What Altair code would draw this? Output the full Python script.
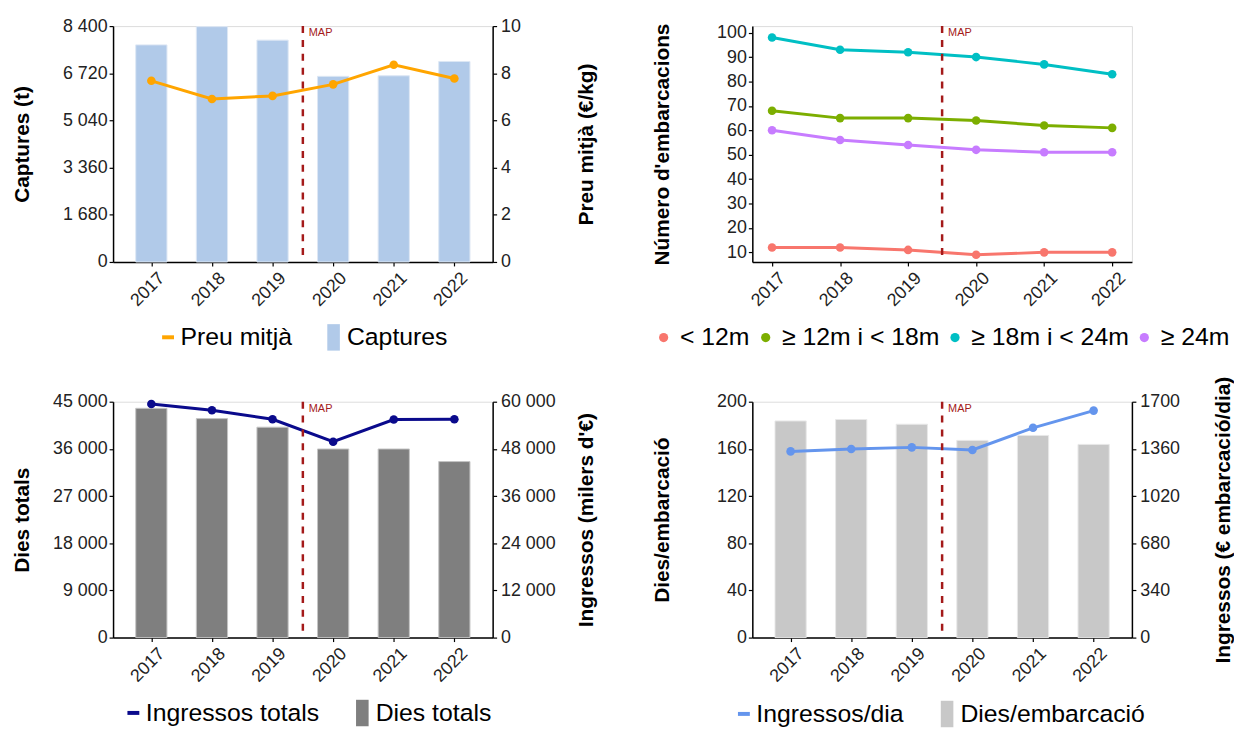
import altair as alt
import pandas as pd

# ---------------- data ----------------
years = [2017, 2018, 2019, 2020, 2021, 2022]

captures = [7730, 8380, 7900, 6610, 6630, 7140]          # t
preu_mitja = [7.68, 6.91, 7.04, 7.53, 8.36, 7.78]        # EUR/kg

eslora_cats = ["< 12m", "≥ 12m i < 18m", "≥ 18m i < 24m", "≥ 24m"]
n_lt12 = [12, 12, 11, 9, 10, 10]
n_12_18 = [68, 65, 65, 64, 62, 61]
n_18_24 = [98, 93, 92, 90, 87, 83]
n_ge24 = [60, 56, 54, 52, 51, 51]

dies_totals = [43740, 41780, 40140, 35980, 35980, 33580]
ingressos_totals = [59410, 57810, 55540, 49820, 55460, 55540]   # milers EUR

dies_embarcacio = [183.7, 184.9, 180.9, 167.2, 171.4, 163.8]
ingressos_dia = [1342, 1359, 1371, 1352, 1512, 1636]

map_year = [2019.5]
map_label = ["MAP"]

# ---------------- style ----------------
FONT = "Liberation Sans"
W, H = 383, 238
RED = "#A41A1A"
BAR_DOMAIN = [2016.45, 2022.55]
LINE_DOMAIN = [2016.71, 2022.29]
RECT = "M-0.475,-1H0.475V1H-0.475Z"
THOUSANDS = "replace(format(datum.value, ','), ',', ' ')"
PLAIN = "format(datum.value, 'd')"

axis_common = dict(
    grid=False, domainColor="black", domainWidth=1.5, tickColor="black",
    tickWidth=1.2, tickSize=4, labelFont=FONT, labelFontSize=18,
    labelColor="#222222", titleFont=FONT, titleFontSize=21,
    titleFontWeight="bold", titleColor="black",
)


def x_enc(domain):
    return alt.X(
        "year:Q",
        scale=alt.Scale(domain=domain, nice=False, zero=False),
        axis=alt.Axis(values=years, format="d", labelAngle=315, labelAlign="right",
                      labelBaseline="top", labelOffset=4, labelPadding=3,
                      title=None, **axis_common),
    )


def left_axis(title, values, thousands=False, titleX=-91):
    return alt.Axis(values=values, title=title, orient="left", titleAngle=270,
                    titleBaseline="middle", titleX=titleX, labelPadding=2,
                    labelExpr=THOUSANDS if thousands else PLAIN, **axis_common)


def right_axis(title, values, thousands=False, titleX=95):
    return alt.Axis(values=values, title=title, orient="right", titleAngle=270,
                    titleBaseline="middle", titleX=titleX, labelPadding=4,
                    labelExpr=THOUSANDS if thousands else PLAIN, **axis_common)


def legend(x, y, symbol, size, stroke_w=0, offset=6, col_pad=10):
    return alt.Legend(
        title=None, orient="none", legendX=x, legendY=y, direction="horizontal",
        symbolType=symbol, symbolSize=size, symbolStrokeWidth=stroke_w,
        labelOffset=offset, labelFont=FONT, labelFontSize=25, labelColor="black",
        labelLimit=400, padding=0, columnPadding=col_pad,
    )


df_map = pd.DataFrame({"year": map_year, "label": map_label})


def map_layers(domain):
    rule = alt.Chart(df_map).mark_rule(
        color=RED, strokeDash=[7, 7], strokeWidth=2.5
    ).encode(x=x_enc(domain))
    txt = alt.Chart(df_map).mark_text(
        align="left", baseline="middle", dx=6, fontSize=11, font=FONT, color=RED
    ).encode(x=x_enc(domain), y=alt.value(7), text="label:N")
    return rule, txt


def bar_line_panel(bar_vals, bar_name, bar_color, bar_edge, bar_domain, bar_ticks,
                   bar_title, line_vals, line_name, line_color, line_domain,
                   line_ticks, line_title, thousands_left, thousands_right,
                   leg_line_x, leg_bar_x, leg_y, right_title_x=95):
    df = pd.DataFrame({
        "year": years, "bar": bar_vals, "line": line_vals,
        "bar_s": [bar_name] * len(years), "line_s": [line_name] * len(years),
    })
    bars = alt.Chart(df).mark_bar(size=31.5, stroke=bar_edge, strokeWidth=1).encode(
        x=x_enc(BAR_DOMAIN),
        y=alt.Y("bar:Q", scale=alt.Scale(domain=bar_domain, nice=False),
                axis=left_axis(bar_title, bar_ticks, thousands_left)),
        fill=alt.Fill("bar_s:N", scale=alt.Scale(domain=[bar_name], range=[bar_color]),
                      legend=legend(leg_bar_x, leg_y - 13.4, RECT, 713, 0, 0)),
    )
    yl = alt.Y("line:Q", scale=alt.Scale(domain=line_domain, nice=False),
               axis=right_axis(line_title, line_ticks, thousands_right, right_title_x))
    line = alt.Chart(df).mark_line(strokeWidth=3).encode(
        x=x_enc(BAR_DOMAIN), y=yl,
        stroke=alt.Stroke("line_s:N",
                          scale=alt.Scale(domain=[line_name], range=[line_color]),
                          legend=legend(leg_line_x, leg_y - 12.5, "stroke", 144, 4, 0)),
    )
    pts = alt.Chart(df).mark_circle(size=75, opacity=1, color=line_color).encode(
        x=x_enc(BAR_DOMAIN), y=yl,
    )
    rule, txt = map_layers(BAR_DOMAIN)
    right = alt.layer(line, pts)
    return alt.layer(bars, right, rule, txt).resolve_scale(y="independent").properties(
        width=W, height=H)


# Panel 1: Captures / Preu mitjà
p1 = bar_line_panel(
    captures, "Captures", "#B1CAE9", "#DDE7F4", [0, 8400],
    [0, 1680, 3360, 5040, 6720, 8400], "Captures (t)",
    preu_mitja, "Preu mitjà", "#FFA500", [0, 10], [0, 2, 4, 6, 8, 10],
    "Preu mitjà (€/kg)", True, False, 43, 209, 314,
)

# Panel 2: Número d'embarcacions
eslora_col = [c for c in eslora_cats for _ in years]
df2 = pd.DataFrame({
    "year": years * 4,
    "n": n_lt12 + n_12_18 + n_18_24 + n_ge24,
    "eslora": eslora_col,
    "eslora_linia": eslora_col,
})
pal2 = ["#F8766D", "#7CAE00", "#00BFC4", "#C77CFF"]
y2 = alt.Y("n:Q", scale=alt.Scale(domain=[6.06, 102.7], nice=False, zero=False),
           axis=left_axis("Número d'embarcacions", list(range(10, 101, 10)), False, -91))
lines2 = alt.Chart(df2).mark_line(strokeWidth=3).encode(
    x=x_enc(LINE_DOMAIN), y=y2,
    stroke=alt.Stroke("eslora_linia:N",
                      scale=alt.Scale(domain=eslora_cats, range=pal2), legend=None),
)
pts2 = alt.Chart(df2).mark_circle(size=75, opacity=1).encode(
    x=x_enc(LINE_DOMAIN), y=y2,
    color=alt.Color("eslora:N", scale=alt.Scale(domain=eslora_cats, range=pal2),
                    legend=legend(-102, 314 - 12.5, "circle", 86, 0, 4, 3)),
)
r2, t2 = map_layers(LINE_DOMAIN)
p2 = alt.layer(lines2, pts2, r2, t2).resolve_scale(stroke="independent").properties(
    width=W, height=H)

# Panel 3: Dies totals / Ingressos totals
p3 = bar_line_panel(
    dies_totals, "Dies totals", "#7F7F7F", "#C4C4C4", [0, 45000],
    [0, 9000, 18000, 27000, 36000, 45000], "Dies totals",
    ingressos_totals, "Ingressos totals", "#0A0A8C", [0, 60000],
    [0, 12000, 24000, 36000, 48000, 60000], "Ingressos (milers d'€)",
    True, True, 8, 238, 314,
)

# Panel 4: Dies/embarcació / Ingressos/dia
p4 = bar_line_panel(
    dies_embarcacio, "Dies/embarcació", "#C8C8C8", "#E8E8E8", [0, 200],
    [0, 40, 80, 120, 160, 200], "Dies/embarcació",
    ingressos_dia, "Ingressos/dia", "#6495ED", [0, 1700],
    [0, 340, 680, 1020, 1360, 1700], "Ingressos (€ embarcació/dia)",
    False, False, -21, 183, 315, right_title_x=92,
)

chart = alt.concat(
    p1, p2, p3, p4, columns=2, spacing={"row": 141, "column": 262}, bounds="flush",
    padding={"left": 3, "top": 5, "right": 0, "bottom": 0},
).resolve_scale(
    x="independent", y="independent", color="independent",
    stroke="independent", fill="independent",
).resolve_legend(
    color="independent", stroke="independent", fill="independent",
).configure_view(stroke=None).configure(background="white")

chart.save("out.html", embed_options={"renderer": "svg", "actions": False})
